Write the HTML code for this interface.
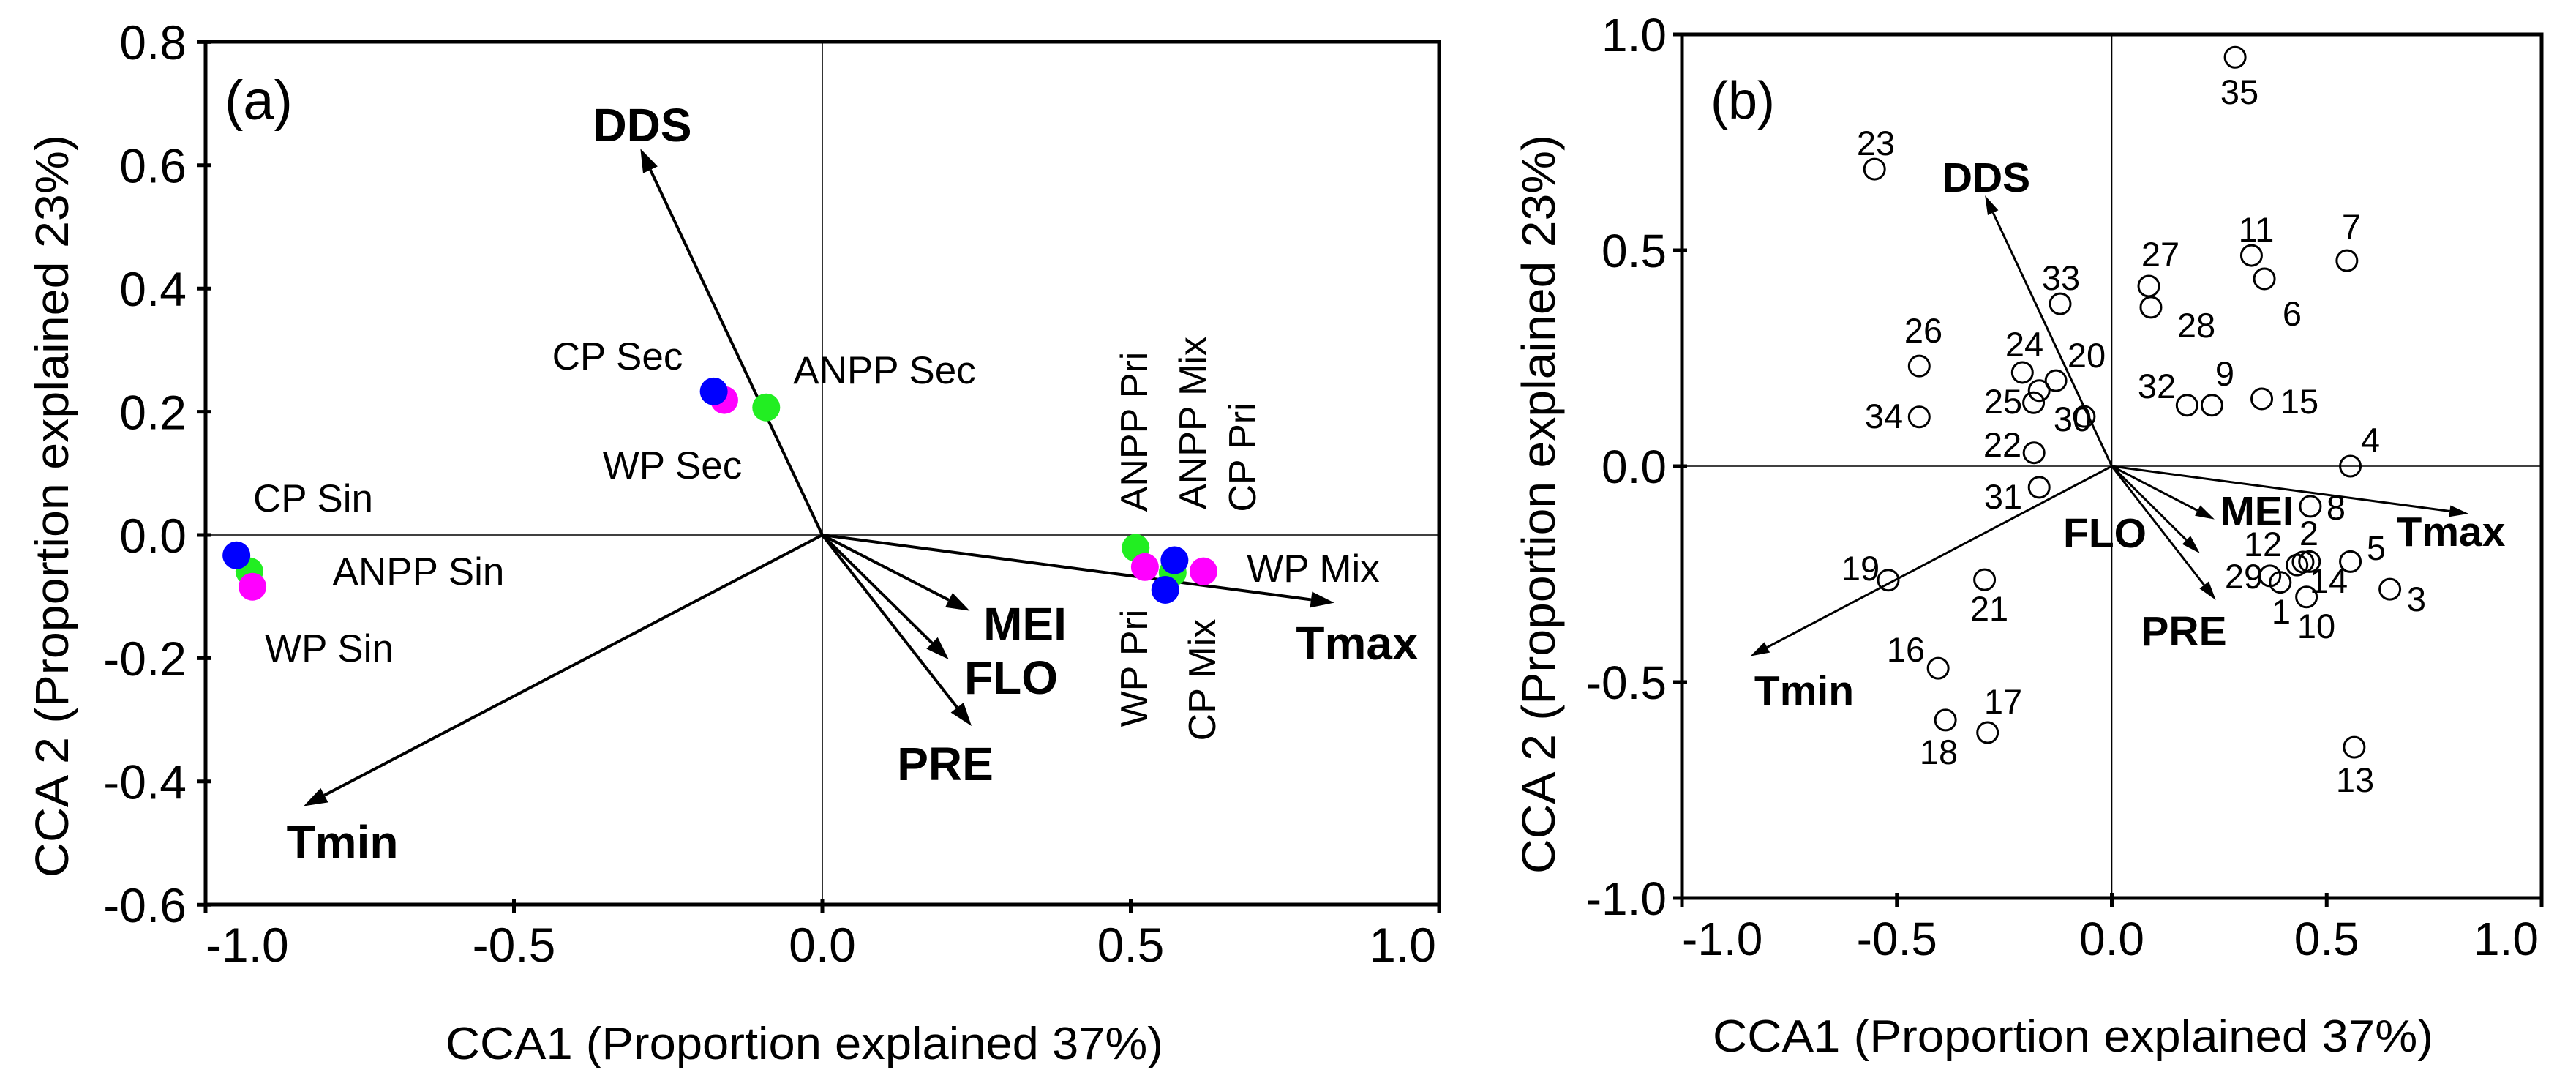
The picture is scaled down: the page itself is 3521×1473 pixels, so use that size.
<!DOCTYPE html>
<html><head><meta charset="utf-8">
<style>
html,body{margin:0;padding:0;background:#fff;}
svg{display:block;font-family:"Liberation Sans",Arial,sans-serif;}
</style></head>
<body>
<svg id="chart" width="3521" height="1473" viewBox="0 0 3521 1473" xmlns="http://www.w3.org/2000/svg">
<rect width="3521" height="1473" fill="#fff"/>
</svg>
<script>
// ---- Shared environmental vectors (CCA1, CCA2) ----
const envNames = ["DDS","Tmin","MEI","FLO","PRE","Tmax"];
const envX = [-0.295,-0.841,0.239,0.205,0.242,0.83];
const envY = [0.627,-0.44,-0.123,-0.202,-0.31,-0.11];

// ---- Panel (a) site-group scores ----
const aNames = ["ANPP Sin","WP Sin","CP Sin","ANPP Sec","WP Sec","CP Sec","ANPP Pri","ANPP Mix","CP Pri","WP Pri","CP Mix","WP Mix"];
const aX = [-0.929,-0.924,-0.95,-0.091,-0.159,-0.176,0.508,0.568,0.571,0.523,0.556,0.618];
const aY = [-0.059,-0.084,-0.033,0.207,0.219,0.233,-0.021,-0.061,-0.041,-0.052,-0.089,-0.059];
const aColor = ["#22ee22","#ff00ff","#0000ff","#22ee22","#ff00ff","#0000ff","#22ee22","#22ee22","#0000ff","#ff00ff","#0000ff","#ff00ff"];

// ---- Panel (b) site scores ----
const bIds = ["35","23","7","11","6","27","28","33","26","24","20","25a","25","30","34","22","31","32","9","15","4","8","2a","2b","2","29","1","10","5","3","13","19","21","16","18","17"];
const bX = [0.287,-0.552,0.547,0.325,0.355,0.086,0.091,-0.12,-0.448,-0.208,-0.13,-0.169,-0.182,-0.064,-0.448,-0.181,-0.169,0.175,0.233,0.349,0.555,0.462,0.431,0.445,0.46,0.368,0.392,0.453,0.555,0.647,0.564,-0.52,-0.296,-0.404,-0.387,-0.289];
const bY = [0.947,0.688,0.476,0.488,0.434,0.417,0.368,0.376,0.232,0.217,0.198,0.175,0.147,0.115,0.114,0.031,-0.049,0.141,0.141,0.156,0.0,-0.093,-0.229,-0.222,-0.221,-0.254,-0.269,-0.303,-0.221,-0.285,-0.651,-0.264,-0.263,-0.468,-0.588,-0.617];

// ---- Tick labels ----
const aXTicks = [-1.0,-0.5,0.0,0.5,1.0];
const aXTickLabels = ["-1.0","-0.5","0.0","0.5","1.0"];
const aYTicks = [0.8,0.6,0.4,0.2,0.0,-0.2,-0.4,-0.6];
const aYTickLabels = ["0.8","0.6","0.4","0.2","0.0","-0.2","-0.4","-0.6"];
const bXTicks = [-1.0,-0.5,0.0,0.5,1.0];
const bXTickLabels = ["-1.0","-0.5","0.0","0.5","1.0"];
const bYTicks = [1.0,0.5,0.0,-0.5,-1.0];
const bYTickLabels = ["1.0","0.5","0.0","-0.5","-1.0"];

const NS="http://www.w3.org/2000/svg";
const svg=document.getElementById('chart');
function mk(tag,attrs,parent){const e=document.createElementNS(NS,tag);for(const k in attrs)e.setAttribute(k,attrs[k]);(parent||svg).appendChild(e);return e;}
function txt(s,attrs,parent){const t=mk('text',attrs,parent);t.textContent=s;return t;}

// axis functions
const ax={x:v=>1124+v*843,y:v=>731-v*842,L:281,R:1967,T:57,B:1236};
const bx={x:v=>2886.5+v*587.5,y:v=>637-v*590,L:2299,R:3474,T:47,B:1227};

function arrow(g,P,x,y,sw,hl,hw){
  const x0=P.x(0),y0=P.y(0),x1=P.x(x),y1=P.y(y);
  const dx=x1-x0,dy=y1-y0,len=Math.hypot(dx,dy),ux=dx/len,uy=dy/len;
  const bxp=x1-ux*hl,byp=y1-uy*hl;
  const l=mk('line',{x1:x0,y1:y0,x2:bxp,y2:byp,stroke:'#000','stroke-width':sw},g);
  
  
  const h=mk('polygon',{points:`${x1},${y1} ${bxp-uy*hw},${byp+ux*hw} ${bxp+uy*hw},${byp-ux*hw}`,fill:'#000'},g);
  
  
}

function frame(g,P,sw,xt,xtl,yt,ytl,fs,ylabX){
  const f=mk('rect',{x:P.L,y:P.T,width:P.R-P.L,height:P.B-P.T,fill:'none',stroke:'#000','stroke-width':sw},g);
  
  
  const zx=mk('line',{x1:P.L,x2:P.R,y1:P.y(0),y2:P.y(0),stroke:'#000','stroke-width':1.6},g);
  
  
  const zy=mk('line',{x1:P.x(0),x2:P.x(0),y1:P.T,y2:P.B,stroke:'#000','stroke-width':1.6},g);
  
  
  xt.forEach((v,i)=>{
    const X=P.x(v);
    const t=mk('line',{x1:X,x2:X,y1:P.B-7,y2:P.B+12,stroke:'#000','stroke-width':sw},g);
    
    
    let anchor='middle',tx=X;
    if(i===0){anchor='start';tx=P.L;} if(i===xt.length-1){anchor='end';tx=P.R-4;}
    const l=txt(xtl[i],{x:tx,y:P.B+78,'font-size':fs,'text-anchor':anchor},g);
    
    
  });
  yt.forEach((v,i)=>{
    const Y=P.y(v);
    const t=mk('line',{x1:P.L-12,x2:P.L+7,y1:Y,y2:Y,stroke:'#000','stroke-width':sw},g);
    
    
    const l=txt(ytl[i],{x:ylabX,y:Y+fs*0.36,'font-size':fs,'text-anchor':'end'},g);
    
    
  });
}

// ================= Panel A =================
const gA=mk('g',{});


frame(gA,ax,5,aXTicks,aXTickLabels,aYTicks,aYTickLabels,66,255);
const tA=txt('(a)',{x:307,y:163,'font-size':76},gA);


const xtA=txt('CCA1 (Proportion explained 37%)',{x:609,y:1447,'font-size':62,textLength:981,lengthAdjust:'spacingAndGlyphs'},gA);


const ytA=txt('CCA 2 (Proportion explained 23%)',{x:0,y:0,'font-size':64,textLength:1015,lengthAdjust:'spacingAndGlyphs',transform:'translate(93,1199) rotate(-90)'},gA);


envNames.forEach((n,i)=>arrow(gA,ax,envX[i],envY[i],4,32,11));
const aEnvLab=[[878,170],[468,1150],[1401,852],[1382,925],[1292,1043],[1855,878]];
envNames.forEach((n,i)=>{
  const t=txt(n,{x:aEnvLab[i][0],y:aEnvLab[i][1]+23,'font-size':64,'font-weight':'bold','text-anchor':'middle'},gA);
  
  
});
aNames.forEach((n,i)=>{
  const c=mk('circle',{cx:ax.x(aX[i]),cy:ax.y(aY[i]),r:19,fill:aColor[i]},gA);
  
  
});
const aLab=[["CP Sec",844,486,0],["ANPP Sec",1209,505,0],["WP Sec",919,635,0],["CP Sin",428,680,0],["ANPP Sin",572,780,0],["WP Sin",450,885,0],["WP Mix",1795,776,0],
["ANPP Pri",1551,590,1],["ANPP Mix",1631,578,1],["CP Pri",1699,625,1],["WP Pri",1551,913,1],["CP Mix",1644,929,1]];
aLab.forEach(l=>{
  let t;
  if(l[3]) t=txt(l[0],{x:0,y:0,'font-size':52,'text-anchor':'middle','dominant-baseline':'central',transform:`translate(${l[1]},${l[2]}) rotate(-90)`},gA);
  else t=txt(l[0],{x:l[1],y:l[2]+19,'font-size':53,'text-anchor':'middle'},gA);
  
  
});

// ================= Panel B =================
const gB=mk('g',{});


frame(gB,bx,5,bXTicks,bXTickLabels,bYTicks,bYTickLabels,64,2278);
const tB=txt('(b)',{x:2338,y:162,'font-size':72},gB);


const xtB=txt('CCA1 (Proportion explained 37%)',{x:2341,y:1437,'font-size':62,textLength:985,lengthAdjust:'spacingAndGlyphs'},gB);


const ytB=txt('CCA 2 (Proportion explained 23%)',{x:0,y:0,'font-size':64,textLength:1010,lengthAdjust:'spacingAndGlyphs',transform:'translate(2125,1194) rotate(-90)'},gB);


envNames.forEach((n,i)=>arrow(gB,bx,envX[i],envY[i],3,26,8));
const bEnvLab=[[2715,241],[2466,942],[3085,697],[2877,727],[2985,861],[3350,725]];
envNames.forEach((n,i)=>{
  const t=txt(n,{x:bEnvLab[i][0],y:bEnvLab[i][1]+21,'font-size':57,'font-weight':'bold','text-anchor':'middle'},gB);
  
  
});
bIds.forEach((n,i)=>{
  const c=mk('circle',{cx:bx.x(bX[i]),cy:bx.y(bY[i]),r:14,fill:'none',stroke:'#000','stroke-width':3},gB);
  
  
});
const bLab=[["35",3061,125],["23",2564,195],["7",3214,309],["11",3084,313],["6",3133,428],["27",2953,347],["28",3002,444],["33",2817,379],["26",2629,451],["24",2767,470],["20",2852,485],["25",2738,548],["30",2833,572],["22",2737,607],["34",2575,568],["31",2738,678],["32",2948,527],["9",3041,510],["15",3143,548],["4",3240,601],["8",3193,693],["2",3156,728],["12",3093,743],["29",3067,787],["14",3183,793],["1",3118,835],["10",3166,855],["5",3248,748],["3",3303,818],["13",3219,1065],["19",2543,776],["21",2719,831],["16",2605,887],["18",2650,1027],["17",2738,958]];
bLab.forEach(l=>{
  const t=txt(l[0],{x:l[1],y:l[2]+17,'font-size':47,'text-anchor':'middle'},gB);
  
  
});
</script>
</body></html>
